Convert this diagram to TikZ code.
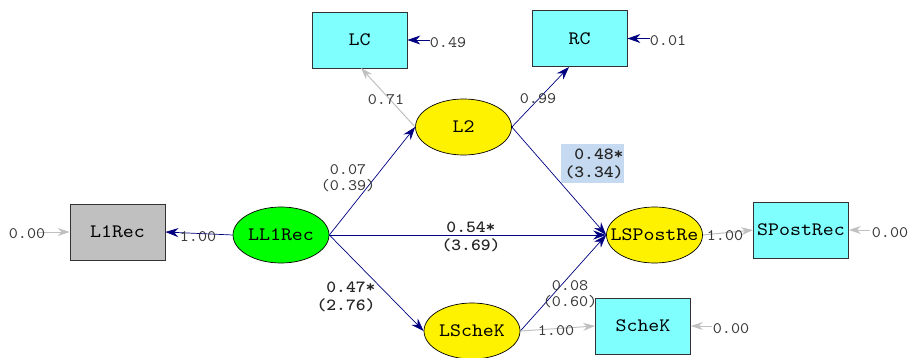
\documentclass[tikz,border=0pt]{standalone}
\usepackage{fontspec}
\usetikzlibrary{arrows.meta,shapes.geometric}
\newfontfamily\courreg{lmmono10-regular}[Extension=.otf, FakeStretch=1.1]
\newfontfamily\courlab{lmmono10-regular}[Extension=.otf, FakeStretch=1.08]
\newfontfamily\courbold{lmmonolt10-bold}[Extension=.otf, FakeStretch=1.1]
\definecolor{navyc}{HTML}{000080}
\definecolor{greyarr}{HTML}{C0C0C0}
\definecolor{labgrey}{HTML}{383838}
\definecolor{cyanbox}{HTML}{80FFFF}
\definecolor{hilite}{HTML}{C5D9F1}
\tikzset{
  obsbox/.style={draw=black!80, line width=0.8pt, fill=cyanbox, minimum width=95pt, minimum height=56pt, inner sep=0pt, font=\courreg\fontsize{19}{21}\selectfont},
  latent/.style={ellipse, draw=black, line width=0.7pt, fill=yellow, minimum width=96pt, minimum height=56pt, inner sep=0pt, label={[font=\courreg\fontsize{19}{21}\selectfont, inner sep=0pt]center:#1}},
  navyarrow/.style={draw=navyc, line width=0.7pt, -{Stealth[length=13pt,width=9pt]}},
  greyarrow/.style={draw=greyarr, line width=1pt, -{Stealth[length=12pt,width=8pt]}},
  lab/.style={text=labgrey, font=\courlab\fontsize{16}{18}\selectfont, inner sep=0pt, align=center},
  blab/.style={text=black!85, font=\courbold\fontsize{17}{19}\selectfont, inner sep=0pt, align=center},
}
\begin{document}
\begin{tikzpicture}[x=1pt,y=-1pt]
\useasboundingbox (0,0) rectangle (909,358);
% nodes
\node[obsbox, fill=greyarr] (l1rec) at (117.5,232) {L1Rec};
\node[latent=LL1Rec, fill=green] (ll1rec) at (281,235) {};
\node[obsbox] (lc) at (359.5,40) {LC};
\node[obsbox] (rc) at (579.5,38.5) {RC};
\node[latent=L2] (l2) at (463.5,127) {};
\node[latent=LSPostRe] (lspost) at (654.5,235) {};
\node[obsbox] (spost) at (801,230) {SPostRec};
\node[latent=LScheK] (lschek) at (472,331) {};
\node[obsbox] (schek) at (643,326) {ScheK};
% error coordinates
\coordinate (e1) at (38,232);
\coordinate (elc) at (430,40);
\coordinate (erc) at (650,38.5);
\coordinate (esp) at (870,230);
\coordinate (esk) at (712,326);
% connectors
\draw[greyarrow] (e1) -- (l1rec.west);
\draw[navyarrow] (ll1rec.west) -- (l1rec.east);
\draw[navyarrow] (elc) -- (lc.east);
\draw[navyarrow] (erc) -- (rc.east);
\draw[greyarrow] (l2.west) -- (361,68);
\draw[navyarrow] (l2.east) -- (569,67);
\draw[navyarrow] (ll1rec.east) -- (l2.west);
\draw[navyarrow] (ll1rec.east) -- (lspost.west);
\draw[navyarrow] (ll1rec.east) -- (lschek.west);
\draw[navyarrow] (l2.east) -- (lspost.west);
\draw[navyarrow] (lschek.east) -- (lspost.west);
\draw[greyarrow] (lspost.east) -- (spost.west);
\draw[greyarrow] (esp) -- (spost.east);
\draw[greyarrow] (lschek.east) -- (schek.west);
\draw[greyarrow] (esk) -- (schek.east);
% labels
\node[lab] (t1) at (27,234) {0.00};
\node[lab] (t2) at (198,237) {1.00};
\node[lab] (t3) at (448,43) {0.49};
\node[lab] (t4) at (668,41) {0.01};
\node[lab] (t5) at (386,100) {0.71};
\node[lab] (t6) at (538,99) {0.99};
\node[lab] (t7) at (348,178) {0.07\\[-2pt](0.39)};
\node[blab] (t8) at (471,237) {0.54*\\[-1pt](3.69)};
\node[blab] (t9) at (346,296) {\phantom{(}0.47*\\[-1pt](2.76)};
\node[fill=hilite, minimum width=63pt, minimum height=39pt, inner sep=0pt] (hb) at (592.5,163.5) {};
\node[blab] (t10) at (594,163) {\phantom{(}0.48*\\[-1pt](3.34)};
\node[lab] (t11) at (570,294) {0.08\\[-2pt](0.60)};
\node[lab] (t12) at (725,236) {1.00};
\node[lab] (t13) at (890,233) {0.00};
\node[lab] (t14) at (556,331) {1.00};
\node[lab] (t15) at (731,329) {0.00};
\end{tikzpicture}
\end{document}
